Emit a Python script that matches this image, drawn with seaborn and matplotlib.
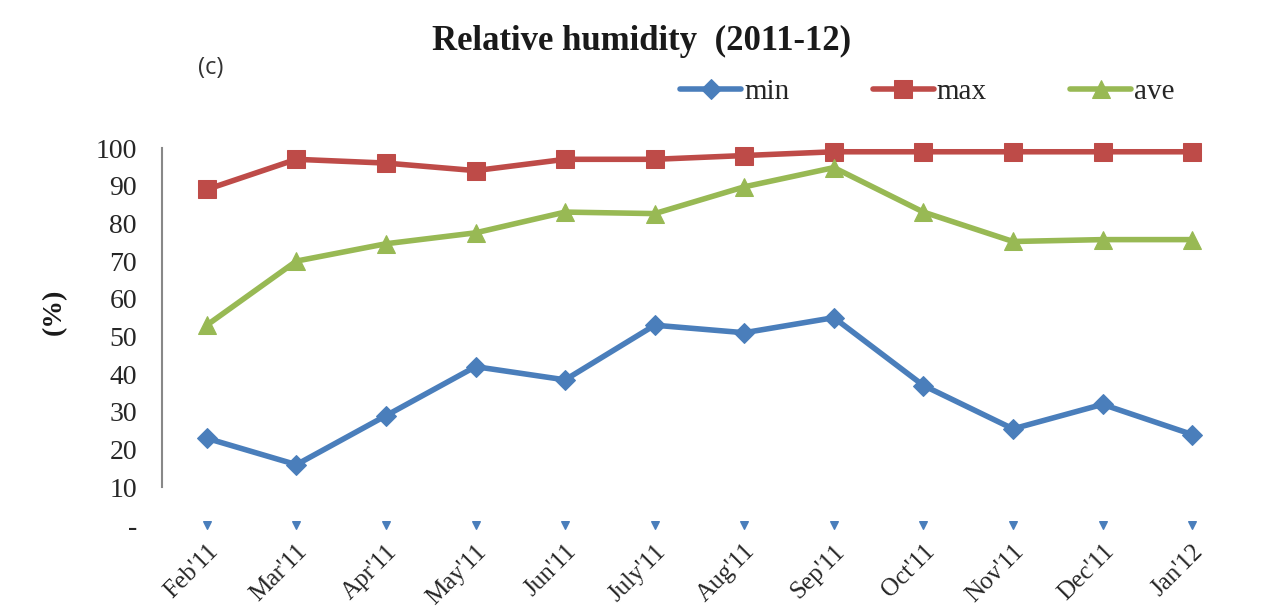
import matplotlib
matplotlib.use("Agg")
import matplotlib.pyplot as plt
import seaborn as sns
import pandas as pd
import numpy as np

months = ["Feb'11", "Mar'11", "Apr'11", "May'11", "Jun'11", "July'11",
          "Aug'11", "Sep'11", "Oct'11", "Nov'11", "Dec'11", "Jan'12"]
rh_min = [23, 16, 29, 42, 38.5, 53, 51, 55, 37, 25.5, 32, 24]
rh_max = [89, 97, 96, 94, 97, 97, 98, 99, 99, 99, 99, 99]
rh_ave = [53, 70, 74.6, 77.5, 83, 82.6, 89.7, 94.8, 83, 75.2, 75.7, 75.7]
y_ticks = [0, 10, 20, 30, 40, 50, 60, 70, 80, 90, 100]
y_ticklabels = ["-", "10", "20", "30", "40", "50", "60", "70", "80", "90", "100"]

sns.set_theme(style="white")
plt.rcParams['font.family'] = ['Liberation Serif', 'DejaVu Serif']

W, H = 1274, 613
fig = plt.figure(figsize=(W / 100, H / 100), dpi=100)
ax = fig.add_axes([162 / W, 1 - 525 / H, (1237 - 162) / W, (525 - 148) / H])

df = pd.DataFrame({"x": np.arange(len(months)), "min": rh_min, "max": rh_max, "ave": rh_ave})
series = [("min", "#4A7EBB", "D", 10), ("max", "#BE4B48", "s", 13), ("ave", "#98B954", "^", 13)]
for name, color, marker, ms in series:
    sns.lineplot(data=df, x="x", y=name, ax=ax, color=color, marker=marker,
                 markersize=ms, markeredgecolor=color, linewidth=4, label=name,
                 clip_on=False)

# markers sitting on the category axis
zeros = pd.DataFrame({"x": np.arange(len(months)), "y": [0] * len(months)})
ax.scatter(zeros["x"], zeros["y"], marker="v", s=30, color="#4A7EBB", clip_on=False, zorder=3)

ax.set_xlim(-0.5, 11.5)
ax.set_ylim(0, 100)
ax.set_yticks(y_ticks)
ax.set_yticklabels(y_ticklabels, fontsize=20, color="#262626")
ax.set_xticks(np.arange(len(months)))
ax.set_xticklabels(months, rotation=45, ha="right", rotation_mode="anchor", fontsize=18,
                   color="#262626")
ax.tick_params(axis="y", length=0, pad=18)
ax.tick_params(axis="x", length=0, pad=11)
for s in ["top", "right", "bottom"]:
    ax.spines[s].set_visible(False)
ax.spines["left"].set_color("#888888")
ax.spines["left"].set_linewidth(1.5)
ax.spines["left"].set_bounds(10, 100)
ax.set_xlabel("")
ax.set_ylabel("")

handles, labels = ax.get_legend_handles_labels()
ax.get_legend().remove()
fig.legend(handles, labels, loc="center left", bbox_to_anchor=(680 / W, 1 - 92 / H),
           ncol=3, frameon=False, fontsize=21, handlelength=2.1, columnspacing=2.85,
           handletextpad=0.1, borderpad=0, borderaxespad=0)

fig.text(54 / W, 1 - 312 / H, "(%)", rotation=90, ha="center", va="center",
         fontsize=20, fontweight="bold", color="#1a1a1a")
fig.text(642 / W, 1 - 41 / H, "Relative humidity  (2011-12)", ha="center", va="center",
         fontsize=25, fontweight="bold", color="#1a1a1a")
fig.text(211 / W, 1 - 68 / H, "(c)", ha="center", va="center", fontsize=17,
         family=["Open Sans", "DejaVu Sans"], color="#333333")

fig.savefig("out.png", dpi=100)
